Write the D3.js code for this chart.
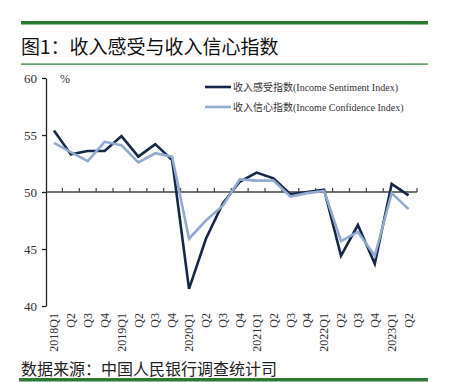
<!DOCTYPE html>
<html>
<head>
<meta charset="utf-8">
<script src="https://cdn.jsdelivr.net/npm/d3@7"></script>
<style>
  html, body { margin: 0; padding: 0; background: #fff; }
  svg { display: block; }
</style>
</head>
<body>
<svg width="449" height="382"></svg>
<script>
// Quarters shown on the x axis:
var quarters = ['2018Q1', 'Q2', 'Q3', 'Q4', '2019Q1', 'Q2 ', 'Q3 ', 'Q4 ',
  '2020Q1', 'Q2  ', 'Q3  ', 'Q4  ', '2021Q1', 'Q2   ', 'Q3   ', 'Q4   ',
  '2022Q1', 'Q2    ', 'Q3    ', 'Q4    ', '2023Q1', 'Q2     '];

// Income sentiment index (%):
var sentiment = [55.4, 53.3, 53.6, 53.6, 54.9, 53.1, 54.2, 52.8,
  41.5, 45.9, 49.0, 50.9, 51.7, 51.2, 49.8, 50.0,
  50.2, 44.4, 47.1, 43.7, 50.7, 49.7];

// Income confidence index (%):
var confidence = [54.3, 53.5, 52.7, 54.4, 54.1, 52.6, 53.4, 53.1,
  45.9, 47.5, 48.8, 51.1, 51.0, 51.0, 49.6, 49.9,
  50.1, 45.7, 46.5, 44.4, 49.9, 48.5];

// Y axis ticks:
var yTicks = [40, 45, 50, 55, 60];

var dark = '#15284a';
var light = '#93abd0';
var green = '#2a7a34';

var svg = d3.select('svg');

// Header and footer rules:
svg.append('rect').attr('x', 21).attr('y', 21).attr('width', 407).attr('height', 3.5).attr('fill', green);
svg.append('rect').attr('x', 21).attr('y', 63.5).attr('width', 407).attr('height', 1.2).attr('fill', green);
svg.append('rect').attr('x', 19).attr('y', 378).attr('width', 409).attr('height', 3.5).attr('fill', green);

svg.append('text')
  .attr('x', 21)
  .attr('y', 54)
  .attr('font-family', '"Noto Sans CJK SC", sans-serif')
  .attr('font-size', 19)
  .attr('fill', '#111')
  .text('图1：收入感受与收入信心指数');

svg.append('text')
  .attr('x', 21)
  .attr('y', 375)
  .attr('font-family', '"Noto Sans CJK SC", sans-serif')
  .attr('font-size', 16)
  .attr('fill', '#222')
  .text('数据来源：中国人民银行调查统计司');

// Scales:
var x = d3.scaleBand().domain(quarters).range([45.5, 417]);
var y = d3.scaleLinear().domain([40, 60]).range([306, 78]);
var cx = function (d, i) { return x(quarters[i]) + x.bandwidth() / 2; };

// Y axis:
var yAxis = svg.append('g')
  .attr('transform', 'translate(46,0)')
  .call(d3.axisLeft(y).tickValues(yTicks).tickSize(4).tickSizeOuter(0).tickPadding(5));
yAxis.select('.domain').attr('stroke', '#222').attr('stroke-width', 1.3);
yAxis.selectAll('.tick line').attr('stroke', '#222').attr('stroke-width', 1.3);
yAxis.selectAll('.tick text')
  .attr('font-family', '"Liberation Serif", serif')
  .attr('font-size', 13)
  .attr('fill', '#333');

svg.append('text')
  .attr('x', 60)
  .attr('y', 83)
  .attr('font-family', '"Liberation Serif", serif')
  .attr('font-size', 12)
  .attr('fill', '#333')
  .text('%');

// Baseline at 50 with tick marks between quarters:
var base = svg.append('g').attr('transform', 'translate(0,' + y(50) + ')');
base.append('line')
  .attr('x1', 46).attr('x2', x.range()[1])
  .attr('stroke', '#444').attr('stroke-width', 1.6);
base.selectAll('.qtick')
  .data(quarters)
  .enter()
  .append('line')
  .attr('class', 'qtick')
  .attr('x1', function (d) { return x(d) + x.bandwidth(); })
  .attr('x2', function (d) { return x(d) + x.bandwidth(); })
  .attr('y1', 0).attr('y2', -4)
  .attr('stroke', '#444').attr('stroke-width', 1.2);

// Rotated quarter labels:
svg.selectAll('.qlabel')
  .data(quarters)
  .enter()
  .append('text')
  .attr('class', 'qlabel')
  .attr('transform', function (d, i) { return 'translate(' + cx(d, i) + ',313) rotate(-90)'; })
  .attr('dy', '0.35em')
  .attr('text-anchor', 'end')
  .attr('font-family', '"Liberation Serif", serif')
  .attr('font-size', 12)
  .attr('fill', '#333')
  .text(function (d) { return d.trim(); });

// Series lines:
var line = d3.line()
  .x(function (d, i) { return cx(d, i); })
  .y(function (d) { return y(d); });

svg.append('path')
  .datum(sentiment)
  .attr('fill', 'none')
  .attr('stroke', dark)
  .attr('stroke-width', 2.6)
  .attr('stroke-linejoin', 'miter')
  .attr('d', line);

svg.append('path')
  .datum(confidence)
  .attr('fill', 'none')
  .attr('stroke', light)
  .attr('stroke-width', 2.6)
  .attr('stroke-linejoin', 'miter')
  .attr('d', line);

// Legend:
var legend = [
  { label: '收入感受指数(Income Sentiment Index)', color: dark, y: 87 },
  { label: '收入信心指数(Income Confidence Index)', color: light, y: 107 }
];
var items = svg.selectAll('.legend')
  .data(legend)
  .enter()
  .append('g')
  .attr('class', 'legend')
  .attr('transform', function (d) { return 'translate(205,' + d.y + ')'; });
items.append('line')
  .attr('x1', 0).attr('x2', 26)
  .attr('stroke', function (d) { return d.color; })
  .attr('stroke-width', 2.6);
items.append('text')
  .attr('x', 28)
  .attr('dy', '0.35em')
  .attr('font-family', '"Liberation Serif", "Noto Sans CJK SC", serif')
  .attr('font-size', 10)
  .attr('fill', '#333')
  .text(function (d) { return d.label; });
</script>
</body>
</html>
